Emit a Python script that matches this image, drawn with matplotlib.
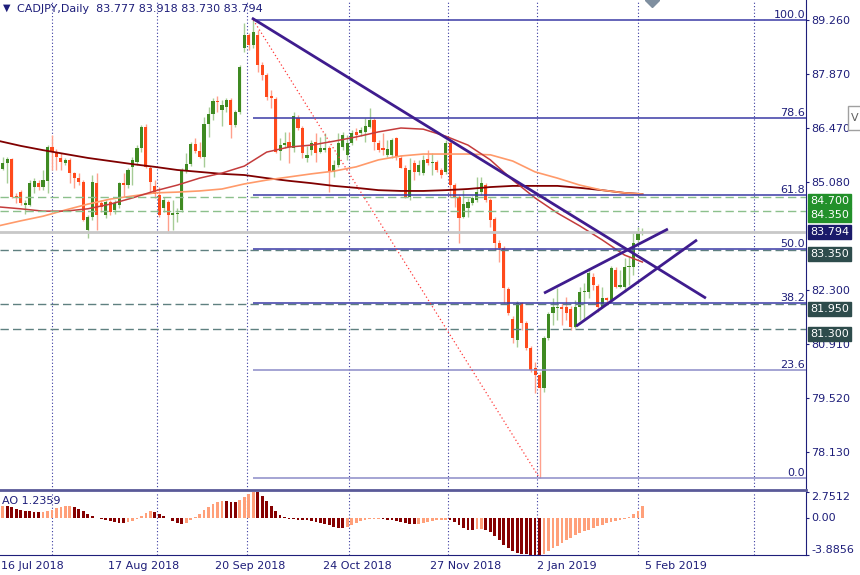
import matplotlib
matplotlib.use("Agg")
import matplotlib.pyplot as plt
import matplotlib.transforms as mtransforms
from matplotlib.patches import Rectangle
import numpy as np

# daily CADJPY bars, bar 0 = 16 Jul 2018, last bar = 5 Feb 2019
opens = [85.53, 85.42, 85.58, 85.68, 84.73, 84.83, 84.50, 84.50, 84.96, 85.06,
         84.96, 85.12, 85.99, 85.86, 85.71, 85.58, 85.66, 85.32, 85.19, 85.09,
         83.85, 84.19, 85.06, 84.55, 84.24, 84.58, 84.37, 84.50, 85.06, 85.01,
         85.48, 85.60, 85.96, 86.51, 85.45, 84.99, 84.76, 84.42, 84.58, 84.24,
         84.27, 84.37, 85.40, 85.55, 86.07, 85.89, 85.73, 86.58, 86.84, 87.18,
         86.94, 87.02, 87.20, 86.56, 86.89, 88.54, 88.87, 88.62, 88.87, 88.10,
         87.84, 87.30, 87.23, 85.89, 86.04, 86.12, 85.96, 86.74, 86.48, 85.71,
         85.91, 86.12, 85.86, 85.91, 85.96, 85.35, 85.53, 85.99, 85.79, 86.09,
         86.38, 86.35, 86.38, 86.51, 86.69, 86.09, 85.96, 85.79, 85.79, 86.22,
         85.71, 85.45, 84.71, 85.58, 85.35, 85.32, 85.68, 85.58, 85.60, 85.40,
         85.35, 86.09, 85.01, 84.71, 84.19, 84.42, 84.55, 84.63, 84.83, 85.01,
         84.63, 84.14, 83.52, 83.39, 82.34, 81.56, 81.02, 81.98, 81.46, 80.82,
         80.30, 80.12, 79.79, 81.07, 81.71, 81.85, 81.87, 81.87, 81.82, 81.36,
         81.87, 82.26, 82.26, 82.65, 82.41, 81.87, 82.10, 82.05, 82.83, 82.39,
         82.39, 82.90, 82.90, 83.60, 83.777]
highs = [85.66, 85.73, 85.73, 85.71, 84.81, 84.88, 84.63, 85.14, 85.19, 85.14,
         85.40, 86.04, 86.30, 85.94, 85.84, 85.71, 85.71, 85.35, 85.32, 85.14,
         84.24, 85.27, 85.32, 84.63, 84.63, 84.63, 84.63, 85.09, 85.32, 85.45,
         85.73, 86.04, 86.56, 86.58, 85.50, 85.14, 84.96, 84.71, 84.63, 84.63,
         84.42, 85.45, 85.84, 86.12, 86.22, 86.12, 86.76, 87.02, 87.25, 87.30,
         87.20, 87.25, 87.25, 86.94, 88.10, 89.18, 88.93, 89.26, 89.00, 88.18,
         87.90, 87.46, 87.28, 86.22, 86.38, 86.38, 86.89, 86.82, 86.53, 86.02,
         86.17, 86.35, 86.25, 86.35, 86.02, 85.66, 86.35, 86.38, 86.30, 86.43,
         86.48, 86.51, 86.74, 86.99, 86.74, 86.17, 86.35, 86.17, 86.22, 86.25,
         85.79, 85.53, 85.71, 85.66, 85.66, 85.79, 85.91, 85.84, 85.66, 85.45,
         86.17, 86.17, 85.06, 84.76, 84.88, 84.68, 84.73, 85.22, 85.22, 85.06,
         84.68, 84.19, 83.60, 83.44, 82.39, 81.64, 82.03, 82.00, 81.51, 80.87,
         80.46, 80.20, 81.13, 81.74, 82.10, 82.36, 81.98, 82.13, 81.90, 82.05,
         82.39, 82.49, 82.88, 82.75, 82.46, 82.39, 82.13, 82.93, 82.90, 82.83,
         83.13, 83.16, 83.78, 83.93, 83.918]
lows = [85.40, 85.40, 85.06, 84.68, 84.55, 84.50, 84.27, 84.47, 84.81, 84.88,
        84.88, 84.81, 85.40, 85.40, 85.40, 85.53, 85.06, 84.94, 85.01, 84.09,
        83.65, 84.11, 83.85, 84.32, 84.16, 84.24, 84.27, 84.42, 84.71, 84.94,
        85.01, 85.53, 85.86, 85.45, 84.81, 84.68, 84.19, 84.32, 83.78, 83.85,
        84.06, 84.32, 85.32, 85.50, 85.84, 85.71, 85.48, 86.25, 86.69, 86.89,
        86.53, 86.89, 86.22, 86.51, 86.84, 88.44, 88.49, 88.54, 87.92, 87.72,
        87.20, 86.99, 85.84, 85.66, 85.96, 85.58, 85.86, 86.43, 85.71, 85.60,
        85.79, 85.60, 85.84, 85.86, 84.83, 85.22, 85.48, 85.91, 85.66, 86.04,
        86.17, 86.27, 86.12, 86.48, 85.91, 85.86, 85.79, 85.73, 85.71, 85.66,
        85.45, 84.68, 84.63, 85.14, 85.27, 85.27, 85.53, 85.27, 85.35, 85.19,
        85.30, 84.71, 84.45, 83.52, 84.16, 84.19, 84.50, 84.58, 84.76, 84.58,
        83.93, 83.34, 83.03, 81.98, 81.67, 80.95, 80.84, 81.28, 80.77, 80.20,
        79.66, 77.47, 79.69, 81.02, 81.41, 81.54, 81.41, 81.54, 81.28, 81.33,
        81.54, 81.54, 82.10, 82.31, 81.74, 81.85, 81.98, 82.00, 82.36, 82.36,
        82.26, 82.44, 82.70, 83.52, 83.730]
closes = [85.58, 85.58, 85.68, 84.71, 84.68, 84.55, 84.55, 85.06, 85.12, 84.96,
          85.14, 85.99, 85.86, 85.73, 85.60, 85.66, 85.32, 85.19, 85.09, 84.11,
          84.19, 85.09, 84.24, 84.45, 84.58, 84.32, 84.55, 85.06, 85.01, 85.40,
          85.66, 85.96, 86.51, 85.48, 85.09, 84.78, 84.24, 84.63, 84.24, 84.29,
          84.29, 85.40, 85.55, 86.07, 85.89, 85.73, 86.58, 86.84, 87.18, 87.15,
          87.07, 87.20, 86.56, 86.89, 88.05, 88.87, 88.62, 88.95, 88.10, 87.84,
          87.28, 87.25, 85.86, 86.04, 86.09, 85.99, 86.79, 86.48, 85.84, 85.79,
          86.09, 85.84, 85.96, 85.96, 85.35, 85.53, 86.09, 86.30, 86.09, 86.35,
          86.30, 86.43, 86.53, 86.69, 86.12, 85.91, 85.91, 85.94, 86.17, 85.73,
          85.45, 84.71, 85.40, 85.35, 85.53, 85.66, 85.58, 85.60, 85.40, 85.27,
          86.09, 85.01, 84.71, 84.16, 84.52, 84.58, 84.68, 84.83, 85.06, 84.63,
          84.11, 83.52, 83.39, 82.36, 81.71, 81.07, 81.98, 81.46, 80.82, 80.25,
          80.12, 79.79, 81.07, 81.69, 81.87, 81.87, 81.82, 81.71, 81.36, 81.87,
          82.26, 82.28, 82.75, 82.44, 81.87, 82.10, 82.05, 82.88, 82.39, 82.44,
          82.90, 82.93, 83.52, 83.78, 83.794]

# moving averages read every 5 bars
ma_bars = [0, 5, 10, 15, 20, 25, 30, 35, 40, 45, 50, 55, 60, 65, 70, 75, 80,
           85, 90, 95, 100, 105, 110, 115, 120, 125, 130, 135, 140, 144]
ma_slow = [86.15, 86.02, 85.91, 85.81, 85.71, 85.63, 85.55, 85.48, 85.40, 85.35,
           85.30, 85.27, 85.19, 85.12, 85.06, 84.99, 84.94, 84.88, 84.86, 84.86,
           84.88, 84.91, 84.96, 84.99, 84.99, 84.99, 84.94, 84.88, 84.81, 84.78]
ma_fast = [84.45, 84.40, 84.34, 84.34, 84.40, 84.52, 84.68, 84.86, 85.01, 85.19,
           85.32, 85.50, 85.86, 85.99, 86.04, 86.14, 86.25, 86.38, 86.48, 86.45,
           86.27, 86.04, 85.66, 85.14, 84.68, 84.29, 83.96, 83.60, 83.21, 83.03]
ma_mid = [83.96, 84.09, 84.21, 84.37, 84.52, 84.65, 84.73, 84.81, 84.83, 84.86,
          84.91, 85.04, 85.14, 85.22, 85.30, 85.37, 85.48, 85.66, 85.76, 85.81,
          85.81, 85.81, 85.79, 85.63, 85.35, 85.19, 85.01, 84.88, 84.81, 84.78]

# Awesome Oscillator
ao = [1.28, 1.32, 1.25, 1.15, 1.00, 0.90, 0.80, 0.72, 0.65, 0.62,
      0.64, 0.75, 0.90, 1.05, 1.15, 1.25, 1.28, 1.20, 1.00, 0.75,
      0.45, 0.20, 0.05, -0.10, -0.25, -0.35, -0.45, -0.50, -0.52, -0.45,
      -0.30, -0.05, 0.25, 0.50, 0.70, 0.65, 0.45, 0.25, 0.00, -0.30,
      -0.55, -0.65, -0.50, -0.20, 0.10, 0.45, 0.85, 1.20, 1.50, 1.75,
      1.85, 1.80, 1.75, 1.70, 1.90, 2.20, 2.50, 2.7512, 2.70, 2.30,
      1.80, 1.30, 0.70, 0.30, 0.10, -0.05, -0.10, -0.15, -0.20, -0.25,
      -0.30, -0.40, -0.50, -0.60, -0.75, -0.90, -1.00, -1.05, -0.90, -0.70,
      -0.50, -0.35, -0.20, -0.10, -0.08, -0.05, -0.10, -0.20, -0.25, -0.30,
      -0.40, -0.55, -0.60, -0.65, -0.60, -0.50, -0.40, -0.30, -0.25, -0.20,
      -0.15, -0.20, -0.40, -0.70, -1.00, -1.20, -1.25, -1.15, -1.10, -1.20,
      -1.50, -1.90, -2.30, -2.80, -3.20, -3.50, -3.65, -3.75, -3.80, -3.84,
      -3.86, -3.8856, -3.80, -3.50, -3.20, -2.90, -2.60, -2.30, -2.05, -1.80,
      -1.60, -1.40, -1.20, -1.00, -0.85, -0.70, -0.55, -0.45, -0.35, -0.25,
      -0.10, 0.10, 0.40, 0.80, 1.2359]

price_ticks = [89.260, 87.870, 86.470, 85.080, 82.300, 80.910, 79.520, 78.130]
date_bars = [0, 24, 48, 72, 96, 120, 144]
date_labels = ["16 Jul 2018", "17 Aug 2018", "20 Sep 2018", "24 Oct 2018",
               "27 Nov 2018", "2 Jan 2019", "5 Feb 2019"]
month_bars = [12, 35.5, 55.5, 78.5, 100.5, 120.5, 143, 169]

fib_ratios = [0.0, 23.6, 38.2, 50.0, 61.8, 78.6, 100.0]
fib_start, fib_end = 57, 121
green_levels = [84.700, 84.350]
gray_levels = [83.350, 81.950, 81.300]
bid = 83.794

# trendlines (bar, price)
trend_lines = [((56.7, 89.31), (158.2, 82.10)),
               ((122.0, 82.23), (149.7, 83.88)),
               ((129.2, 81.38), (156.2, 83.60))]

NAVY = "#1e1e7a"
UP, DOWN = "#3f8a22", "#ff4a1c"
UP_WICK, DOWN_WICK = "#a6cc96", "#ffa08c"

W, H = 860, 575
fig = plt.figure(figsize=(W / 100, H / 100), dpi=100)
plt.rcParams['font.family'] = ['DejaVu Sans']
ax = fig.add_axes([0, 85 / H, 806 / W, 490 / H])
ax_ao = fig.add_axes([0, 20 / H, 806 / W, 63 / H], sharex=ax)

x = np.arange(len(opens))
o, h, l, c = map(np.array, (opens, highs, lows, closes))
up = c >= o

ax.vlines(x, l, h, colors=np.where(up, UP_WICK, DOWN_WICK), lw=1, zorder=2)
ax.bar(x, np.maximum(np.abs(c - o), 0.025), bottom=np.minimum(o, c), width=0.7,
       color=np.where(up, UP, DOWN), lw=0, zorder=2.1)

ax.plot(ma_bars, ma_slow, color="#800000", lw=1.3, zorder=3)
ax.plot(ma_bars, ma_mid, color="#ff9a6a", lw=1.2, zorder=3)
ax.plot(ma_bars, ma_fast, color="#c43c3c", lw=1.1, zorder=3)

for b in month_bars:
    for a in (ax, ax_ao):
        a.axvline(b, color="#3a3aa0", lw=0.8, ls=(0, (1, 2)), zorder=1)

xmin, xmax = 0.38, 180.57
for lv in green_levels:
    ax.axhline(lv, color="#8cc08c", lw=1, ls=(0, (6, 3)), zorder=3.5)
for lv in gray_levels:
    ax.axhline(lv, color="#5f8080", lw=1, ls=(0, (6, 3)), zorder=3.5)
ax.axhline(bid, color="#c8c8c8", lw=2, zorder=3.4)

fib_hi, fib_lo = highs[fib_start], lows[fib_end]
for r in fib_ratios:
    lv = fib_lo + r / 100 * (fib_hi - fib_lo)
    col = "#8c8cc8" if r in (0.0, 23.6) else "#3a3aa6"
    ax.hlines(lv, fib_start, xmax, color=col, lw=1.1, zorder=4)
    ax.text(xmax - 0.2, lv, f"{r:.1f}", ha="right", va="bottom", fontsize=8,
            color=NAVY, zorder=5)
ax.plot([fib_start, fib_end], [fib_hi, fib_lo], color="#ff3a3a", lw=0.9,
        ls=(0, (1, 2)), zorder=4)

for (x0, y0), (x1, y1) in trend_lines:
    ax.plot([x0, x1], [y0, y1], color="#3f1c8e", lw=2, zorder=4.5,
            solid_capstyle="butt")

ax.set_xlim(xmin, xmax)
ax.set_ylim(77.162, 89.775)
ax.yaxis.tick_right()
ax.set_yticks(price_ticks)
ax.set_yticklabels([f"{t:.3f}" for t in price_ticks])
ax.tick_params(axis="y", length=2, pad=2, colors=NAVY, labelsize=8)
ax.tick_params(axis="x", bottom=False, labelbottom=False)
for s in ("top", "left"):
    ax.spines[s].set_visible(False)
ax.spines["right"].set_color(NAVY)
ax.spines["bottom"].set_color("#5a5a98")
ax.spines["bottom"].set_linewidth(2)

# price labels at the right
def price_box(level, text, color, dy):
    ax.annotate(text, xy=(1, level), xycoords=("axes fraction", "data"),
                xytext=(3, dy), textcoords="offset points", ha="left",
                va="center", fontsize=8, color="white", zorder=6,
                annotation_clip=False,
                bbox=dict(boxstyle="square,pad=0.18", fc=color, ec=color))

price_box(green_levels[0], f"{green_levels[0]:.3f}", "#22902a", -3)
price_box(green_levels[1], f"{green_levels[1]:.3f}", "#22902a", -3)
price_box(bid, f"{bid:.3f}", "#1a1a6a", 0)
for lv in gray_levels:
    price_box(lv, f"{lv:.3f}", "#2e4c4c", -3.5)

# AO panel
ao_col = ["#ffa07a" if i == 0 or ao[i] >= ao[i - 1] else "#850000"
          for i in range(len(ao))]
ax_ao.bar(x, ao, width=0.62, color=ao_col, lw=0, zorder=2)
ax_ao.set_ylim(-3.8856, 2.7512)
ax_ao.yaxis.tick_right()
ax_ao.set_yticks([-3.8856, 0.0, 2.7512])
ax_ao.set_yticklabels(["-3.8856", "0.00", "2.7512"])
for lab, va in zip(ax_ao.get_yticklabels(), ["bottom", "center", "top"]):
    lab.set_va(va)
ax_ao.tick_params(axis="y", length=2, pad=2, colors=NAVY, labelsize=8)
ax_ao.tick_params(axis="x", bottom=False, labelbottom=False)
for s in ("top", "left"):
    ax_ao.spines[s].set_visible(False)
ax_ao.spines["right"].set_color(NAVY)
ax_ao.spines["bottom"].set_color(NAVY)

tr = mtransforms.blended_transform_factory(ax_ao.transData, ax_ao.transAxes)
for b, lab in zip(date_bars, date_labels):
    ax_ao.text(b + 0.5, -0.17, lab, transform=tr, ha="left", va="center",
               fontsize=8, color=NAVY)

fig.text(3 / W, 1 - 8 / H, "\u25BC", fontsize=7, color=NAVY, va="center")
fig.text(17 / W, 1 - 9 / H,
         f"CADJPY,Daily  {opens[-1]:.3f} {highs[-1]:.3f} {lows[-1]:.3f} {closes[-1]:.3f}",
         fontsize=8, color=NAVY, va="center")
fig.text(2 / W, 1 - 501 / H, f"AO {ao[-1]:.4f}", fontsize=8, color=NAVY,
         va="center")

# small chart widgets at the top
ax.plot([146.2], [89.775], marker="D", ms=7, color="#7f8fa0", clip_on=True,
        zorder=6)
fig.patches.append(Rectangle((848 / W, 1 - 130 / H), 14 / W, 24 / H,
                             transform=fig.transFigure, fc="white",
                             ec="#a0a0a0", lw=1))
fig.text(851 / W, 1 - 118 / H, "V", fontsize=8, color="#606060", va="center")

fig.savefig("out.png", dpi=100, facecolor="white")
